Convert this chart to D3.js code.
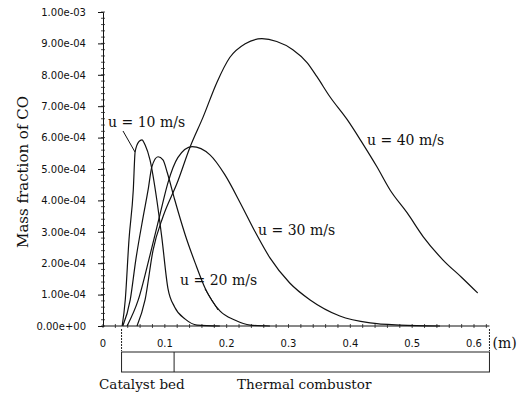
<!DOCTYPE html>
<html>
<head>
<meta charset="utf-8">
<script src="https://cdn.jsdelivr.net/npm/d3@7"></script>
<style>
  body { margin: 0; background: #fff; }
  .tick text { font-family: "DejaVu Sans", sans-serif; font-size: 10px; fill: #111; }
  .serif { font-family: "DejaVu Serif", serif; fill: #111; }
</style>
</head>
<body>
<div id="chart"></div>
<script>
// CO mass fraction (in units of 1e-4) along the reactor, one series per inlet speed
var x10 = [0.031, 0.036, 0.042, 0.049, 0.052, 0.058, 0.063, 0.068, 0.076, 0.087, 0.095, 0.105, 0.116, 0.133, 0.152, 0.189];
var y10 = [0, 0.83, 2.74, 4.34, 5.55, 5.87, 5.93, 5.77, 5.29, 4.02, 2.84, 1.2, 0.6, 0.22, 0.03, 0];

var x20 = [0.032, 0.044, 0.053, 0.065, 0.073, 0.079, 0.089, 0.097, 0.104, 0.116, 0.133, 0.149, 0.165, 0.189, 0.213, 0.238, 0.270];
var y20 = [0, 0.83, 2.10, 3.48, 4.34, 5.07, 5.39, 5.29, 4.88, 4.02, 2.90, 2.01, 1.21, 0.48, 0.19, 0.03, 0];

var x30 = [0.039, 0.057, 0.076, 0.092, 0.105, 0.121, 0.144, 0.173, 0.197, 0.222, 0.246, 0.270, 0.302, 0.335, 0.383, 0.432, 0.480, 0.545];
var y30 = [0, 0.83, 2.26, 3.54, 4.56, 5.36, 5.71, 5.45, 4.82, 3.92, 3.00, 2.17, 1.37, 0.83, 0.32, 0.10, 0.03, 0];

var x40 = [0.055, 0.068, 0.081, 0.097, 0.120, 0.141, 0.162, 0.184, 0.205, 0.230, 0.257, 0.281, 0.307, 0.330, 0.346, 0.367, 0.395, 0.419, 0.443, 0.464, 0.492, 0.518, 0.550, 0.581, 0.606];
var y40 = [0, 0.83, 2.42, 3.48, 4.56, 5.71, 6.66, 7.75, 8.55, 8.99, 9.15, 9.06, 8.80, 8.39, 7.94, 7.30, 6.57, 5.84, 5.07, 4.34, 3.60, 2.84, 2.10, 1.53, 1.05];

var speeds = ['u = 10 m/s', 'u = 20 m/s', 'u = 30 m/s', 'u = 40 m/s'];
var xTicks = [0, 0.1, 0.2, 0.3, 0.4, 0.5, 0.6];
var yTicks = [0, 1, 2, 3, 4, 5, 6, 7, 8, 9, 10];
var bedStart = 0.03, bedEnd = 0.115, reactorEnd = 0.625;

var svgWidth = 526;
var svgHeight = 393;

var svg = d3.select('#chart')
  .append('svg')
  .attr('width', svgWidth)
  .attr('height', svgHeight);

// scales
var xScale = d3.scaleLinear().domain([0, 0.6]).range([103, 474]);
var yScale = d3.scaleLinear().domain([0, 10]).range([326, 12]);

// exponent label like 1.00e-03
function sci(v){
  if (v === 0) return '0.00e+00';
  var s = (v * 1e-4).toExponential(2);
  return s.replace(/e([+-])(\d)$/, 'e$10$2');
}

// y axis
var leftAxis = d3.axisLeft(yScale).tickValues(yTicks).tickFormat(sci).tickSize(5).tickPadding(12);
var gy = svg.append('g').attr('transform', 'translate(103,0)').call(leftAxis);
gy.select('.domain').attr('stroke', '#111');
gy.selectAll('.tick line').attr('stroke', '#111');

// minor ticks on y
var yMinor = d3.range(0, 10.01, 0.2);
svg.append('g').selectAll('line').data(yMinor).enter().append('line')
  .attr('x1', 101).attr('x2', 105)
  .attr('y1', function(d){ return yScale(d); })
  .attr('y2', function(d){ return yScale(d); })
  .attr('stroke', '#222').attr('stroke-width', 0.8);

// x axis
svg.append('line')
  .attr('x1', xScale(0)).attr('x2', xScale(reactorEnd))
  .attr('y1', 326).attr('y2', 326)
  .attr('stroke', '#111');

var xMinor = d3.range(0, 0.621, 0.02);
svg.append('g').selectAll('line').data(xMinor).enter().append('line')
  .attr('x1', function(d){ return xScale(d); })
  .attr('x2', function(d){ return xScale(d); })
  .attr('y1', 324).attr('y2', 328)
  .attr('stroke', '#222').attr('stroke-width', 0.8);

svg.append('g').selectAll('text').data(xTicks).enter().append('text')
  .attr('x', function(d){ return xScale(d); })
  .attr('y', 347)
  .attr('text-anchor', 'middle')
  .style('font-family', '"DejaVu Sans", sans-serif')
  .style('font-size', '10px')
  .attr('fill', '#111')
  .text(function(d){ return d === 0 ? '0' : d.toFixed(1); });

svg.append('text').attr('class', 'serif')
  .attr('x', xScale(reactorEnd) + 3).attr('y', 348)
  .style('font-size', '14px')
  .text('(m)');

// dashed markers at bed start and reactor end
[bedStart, reactorEnd].forEach(function(d){
  svg.append('line')
    .attr('x1', xScale(d)).attr('x2', xScale(d))
    .attr('y1', 329).attr('y2', 351)
    .attr('stroke', '#222').attr('stroke-dasharray', '2,1');
});

// reactor box
svg.append('rect')
  .attr('x', xScale(bedStart)).attr('y', 352)
  .attr('width', xScale(reactorEnd) - xScale(bedStart)).attr('height', 20)
  .attr('fill', 'none').attr('stroke', '#222');
svg.append('line')
  .attr('x1', xScale(bedEnd)).attr('x2', xScale(bedEnd))
  .attr('y1', 352).attr('y2', 372)
  .attr('stroke', '#222');

svg.append('text').attr('class', 'serif')
  .attr('x', 99).attr('y', 389).style('font-size', '13.5px')
  .text('Catalyst bed');
svg.append('text').attr('class', 'serif')
  .attr('x', 237).attr('y', 389).style('font-size', '13.5px')
  .text('Thermal combustor');

// y title
svg.append('text').attr('class', 'serif')
  .attr('transform', 'translate(28,172)rotate(-90)')
  .attr('text-anchor', 'middle')
  .style('font-size', '15px')
  .text('Mass fraction of CO');

// curves
var series = [[x10, y10], [x20, y20], [x30, y30], [x40, y40]];
var line = d3.line()
  .x(function(d){ return xScale(d[0]); })
  .y(function(d){ return yScale(d[1]); })
  .curve(d3.curveMonotoneX);

series.forEach(function(s){
  var pts = s[0].map(function(x, i){ return [x, s[1][i]]; });
  svg.append('path')
    .attr('d', line(pts))
    .attr('fill', 'none')
    .attr('stroke', '#111')
    .attr('stroke-width', 1.2);
});

// curve labels
var labelPos = [[108, 127], [180, 285], [258, 235], [367, 145]];
speeds.forEach(function(t, i){
  svg.append('text').attr('class', 'serif')
    .attr('x', labelPos[i][0]).attr('y', labelPos[i][1])
    .style('font-size', '14px')
    .text(t);
});

// leader lines
svg.append('line').attr('x1', 123).attr('y1', 131).attr('x2', 135).attr('y2', 152)
  .attr('stroke', '#111');
svg.append('line').attr('x1', 205).attr('y1', 289).attr('x2', 218).attr('y2', 310)
  .attr('stroke', '#111');
</script>
</body>
</html>
